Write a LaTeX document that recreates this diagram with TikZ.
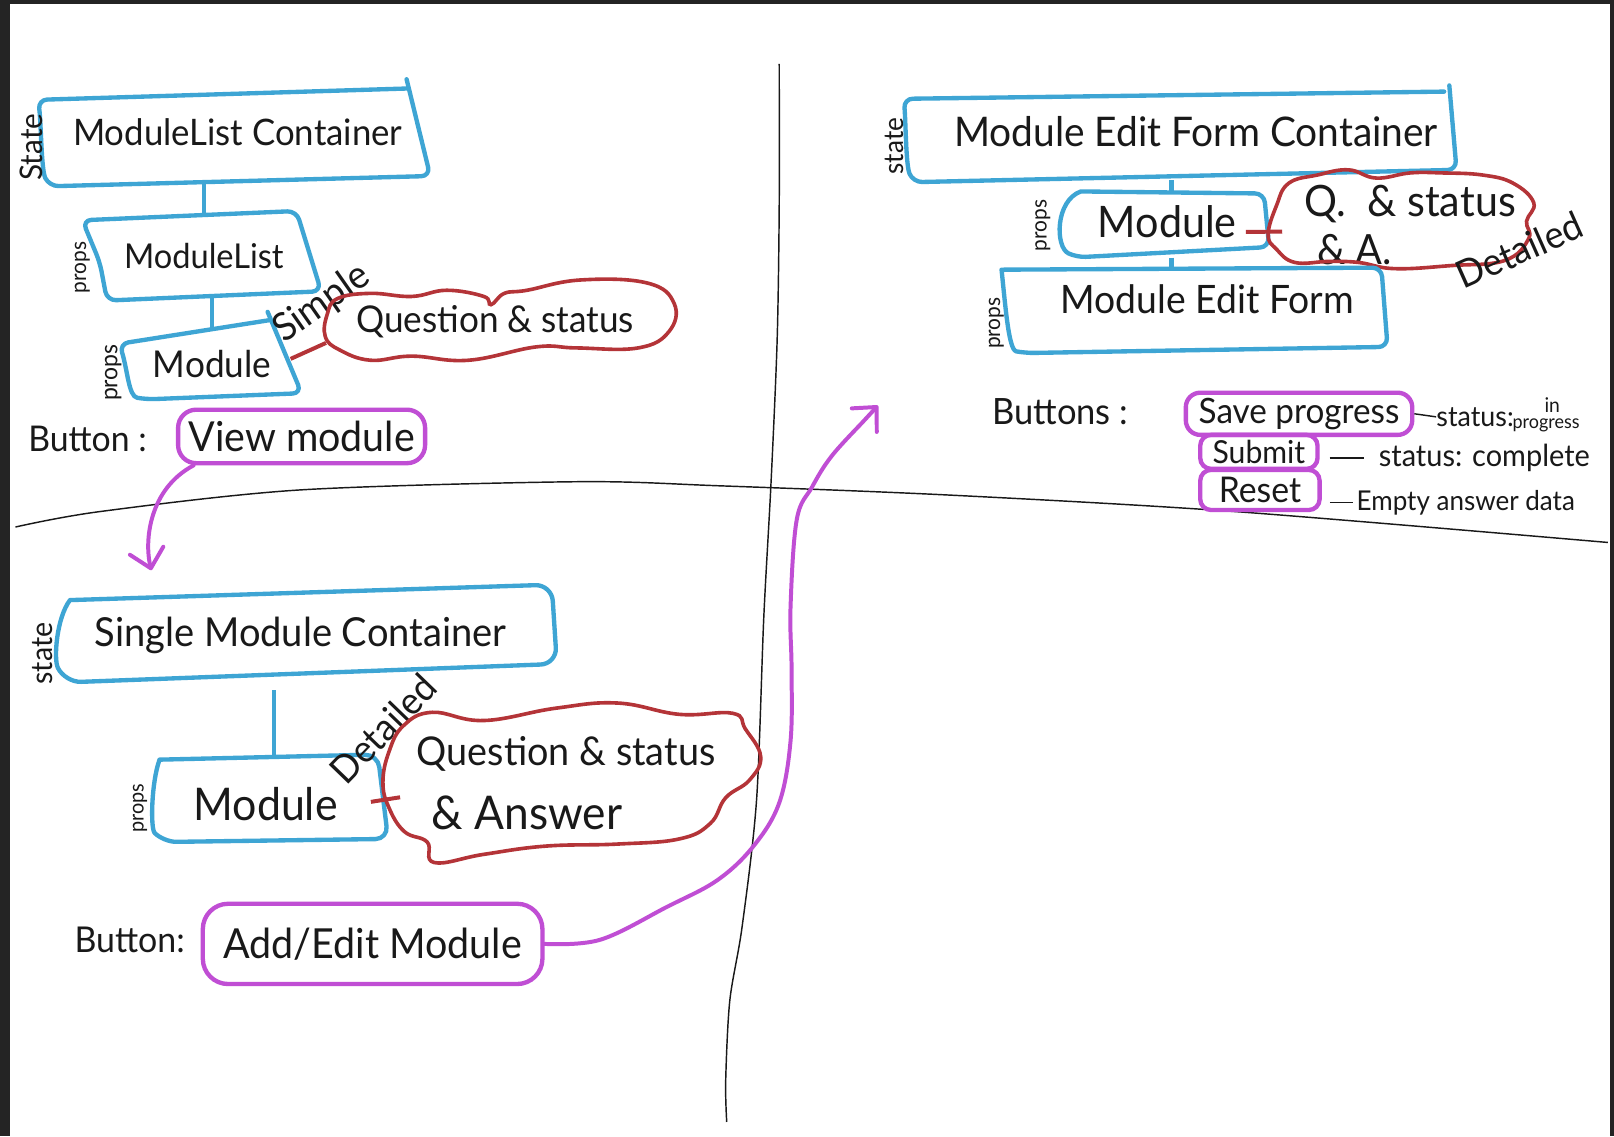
\documentclass[tikz,border=0pt]{standalone}
\usepackage{fontspec}
\setmainfont{Lato}
\usetikzlibrary{arrows.meta}
\definecolor{pblue}{RGB}{62,165,212}
\definecolor{pred}{RGB}{180,52,56}
\definecolor{ppur}{RGB}{192,78,212}
\definecolor{ink}{RGB}{25,25,25}
\definecolor{framegray}{RGB}{36,36,36}
\newcommand{\hw}[2]{\scalebox{1}[1.05]{\resizebox{#1}{!}{#2}}}
\begin{document}
\begin{tikzpicture}[x=0.02cm,y=-0.02cm,
  bluebox/.style={draw=pblue,line width=2.4pt,rounded corners=5pt,line join=round,line cap=round},
  anchorbox/.style={inner sep=0pt,draw=none,text=ink},
  lbl/.style={inner sep=0pt,text=ink},
  cloudline/.style={draw=pred,line width=2pt},
  redlink/.style={draw=pred,line width=2.2pt},
  bluelink/.style={draw=pblue,line width=2.4pt},
  btn/.style={draw=ppur,line width=2.4pt,rounded corners=8pt,inner sep=0pt,text=ink},
  purarrow/.style={draw=ppur,line width=2.2pt,line cap=round,-{Straight Barb[length=10pt 0,width=19pt 0,round]}},
  divider/.style={draw=ink,line width=0.8pt},
  dashlink/.style={draw=ink,line width=0.8pt}]
\fill[framegray] (0,0) rectangle (1568,1104);
\fill[white] (9.5,4) rectangle (1564,1104);
\useasboundingbox (0,0) rectangle (1568,1104);

% dividers
\draw[divider] plot[smooth] coordinates {(757,62) (757,200) (755,330) (749,470) (742,600) (735,777) (721,900) (709,972) (705,1050) (706,1090)};
\draw[divider] plot[smooth] coordinates {(15,512) (97,497) (291,476) (560,468) (700,472) (923,481) (1200,497) (1562,527)};

% ---------- top left ----------
\node[anchorbox,minimum width=7.4cm,minimum height=2cm] (mlc) at (231,128) {\hw{6.4cm}{ModuleList Container}};
\draw[bluebox] (395,77) -- (418,171) -- (48,181) .. controls (40,165) and (40,120) .. (37,97) -- (395,86);
\node[lbl,rotate=90] (st1) at (30,143) {\hw{1.3cm}{State}};

\node[anchorbox,minimum width=4.4cm,minimum height=1.58cm] (ml) at (198,248.5) {\hw{3.1cm}{ModuleList}};
\draw[bluebox] (80,214) -- (288,205) -- (312,283) -- (104,292) -- (97,255) -- cycle;
\node[lbl,rotate=90] (pr1) at (80,260) {\hw{1.0cm}{props}};
\draw[bluelink] (ml.north |- mlc.south) -- (ml.north);

\node[anchorbox,minimum width=3.04cm,minimum height=1.32cm] (m1) at (206,354) {\hw{2.3cm}{Module}};
\draw[bluebox] (260,303) -- (293,382) -- (142,388) .. controls (125,385) and (124,360) .. (116,334) -- (262,311);
\node[lbl,rotate=90] (pr2) at (110,362) {\hw{1.1cm}{props}};
\draw[bluelink] (m1.north |- ml.south) -- (m1.north);

\node[lbl,rotate=35] (simple) at (313,295) {\hw{2.1cm}{Simple}};

\node[anchorbox,minimum width=6.56cm,minimum height=1.6cm] (c1) at (481,313) {\hw{5.4cm}{Question \& status}};
\draw[cloudline] plot[smooth cycle,tension=0.7] coordinates {(316,327) (318,305) (328,290) (360,285) (400,288) (434,282) (470,288) (477,296) (490,285) (512,282) (564,272) (629,275) (655,295) (650,322) (620,338) (560,338) (521,337) (455,350) (400,346) (360,350) (330,340)};
\draw[redlink] (m1.4) -- (c1.187);

\node[lbl] (b1) at (85,426) {\hw{2.3cm}{Button :}};
\node[btn,minimum width=4.8cm,minimum height=1.04cm,rounded corners=10pt] (vb) at (293,424) {\hw{4.4cm}{View module}};
\coordinate (a1end) at (147,554);
\draw[purarrow] (vb.195) .. controls (145,475) and (140,525) .. (a1end);

% ---------- bottom left ----------
\node[lbl,rotate=90] (st2) at (41,635) {\hw{1.2cm}{state}};
\node[anchorbox,minimum width=9.5cm,minimum height=2.12cm] (smc) at (292,617) {\hw{8.0cm}{Single Module Container}};
\draw[bluebox,rounded corners=9pt] (68,583) -- (536,568) -- (541,645) -- (63,663) .. controls (52,640) and (55,600) .. (68,583);

\node[anchorbox,minimum width=3.76cm,minimum height=1.76cm] (m2) at (266,779) {};
\node[lbl] (m2t) at (258,781) {\hw{2.8cm}{Module}};
\draw[bluebox,rounded corners=7pt] (155,738) -- (367,733) -- (377,815) -- (159,818) .. controls (146,805) and (147,760) .. (155,738);
\node[lbl,rotate=90] (pr3) at (136,785) {\hw{0.95cm}{props}};
\draw[bluelink] (m2.north |- smc.south) -- (m2.north);
\node[lbl,rotate=46] (det1) at (372,708) {\hw{2.6cm}{Detailed}};

\node[anchorbox,minimum width=6.64cm,minimum height=2.6cm] (c2) at (555,760) {};
\node[lbl] (c2a) at (550,732) {\hw{5.8cm}{Question \& status}};
\node[lbl] (c2b) at (512,790) {\hw{3.7cm}{\& Answer}};
\draw[cloudline] plot[smooth cycle,tension=0.7] coordinates {(378,730) (392,705) (420,692) (470,700) (540,688) (600,683) (660,694) (712,693) (724,708) (739,735) (728,758) (705,775) (690,800) (660,815) (600,820) (530,822) (470,830) (422,838) (415,818) (393,808) (378,785) (372,760)};
\draw[redlink] (m2.east) -- (c2.185);

\node[lbl] (b2) at (126,913) {\hw{2.14cm}{Button:}};
\node[btn,minimum width=6.6cm,minimum height=1.56cm,rounded corners=14pt] (ab) at (362,917) {\hw{5.8cm}{Add/Edit Module}};
\coordinate (a2end) at (853,394);
\draw[purarrow] plot[smooth,tension=0.6] coordinates {(ab.east) (583,913) (648,881) (697,855) (732,822) (757,780) (768,720) (769,650) (768,590) (774,505) (789,473) (808,443) (840,408) (a2end)};

% ---------- right ----------
\node[lbl,rotate=90] (st3) at (869,142) {\hw{1.1cm}{state}};
\node[anchorbox,minimum width=10.7cm,minimum height=1.88cm] (mefc) at (1162,128) {\hw{9.4cm}{Module Edit Form Container}};
\draw[bluebox] (1408,83) -- (1415,165) -- (887,177) .. controls (880,160) and (880,120) .. (878,96) -- (1403,89);

\node[anchorbox,minimum width=2.88cm,minimum height=1.24cm] (m3) at (1138,219) {};
\node[lbl] (m3t) at (1134,215) {\hw{2.7cm}{Module}};
\draw[bluebox] (1050,186) -- (1228,188) -- (1233,240) -- (1046,250) .. controls (1025,240) and (1025,195) .. (1050,186);
\node[lbl,rotate=90] (pr4) at (1013,219) {\hw{1.0cm}{props}};
\draw[bluelink] (m3.north |- mefc.south) -- (m3.north);

\node[anchorbox,minimum width=4.56cm,minimum height=1.8cm] (c3) at (1360,215) {};
\node[lbl] (c3a) at (1370,198) {\hw{4.1cm}{Q.\ \ \& status}};
\node[lbl] (c3b) at (1316,242) {\hw{1.45cm}{\& A.}};
\draw[cloudline] plot[smooth cycle,tension=0.7] coordinates {(1232,228) (1240,200) (1252,178) (1280,170) (1310,165) (1337,173) (1370,168) (1401,168) (1440,170) (1470,178) (1490,197) (1483,215) (1485,232) (1462,253) (1410,258) (1355,261) (1320,255) (1291,254) (1258,255) (1240,242)};
\draw[redlink] (m3.-5) -- (c3.185);
\node[lbl,rotate=24] (det2) at (1476,243) {\hw{2.6cm}{Detailed}};

\node[anchorbox,minimum width=7.5cm,minimum height=1.16cm] (mef) at (1173,291) {\hw{5.7cm}{Module Edit Form}};
\draw[bluelink] (m3.south) -- (m3.south |- mef.north);
\draw[bluebox] (973,262) -- (1342,260) -- (1348,337) -- (996,343) .. controls (980,340) and (977,300) .. (973,262);
\node[lbl,rotate=90] (pr5) at (968,314) {\hw{1.0cm}{props}};

\node[lbl] (bs) at (1030,400) {\hw{2.64cm}{Buttons :}};
\node[btn,minimum width=4.4cm,minimum height=0.82cm] (save) at (1262,402) {\hw{3.9cm}{Save progress}};
\node[btn,minimum width=2.28cm,minimum height=0.66cm,rounded corners=6pt] (submit) at (1223,439) {\hw{1.8cm}{Submit}};
\node[btn,minimum width=2.32cm,minimum height=0.78cm,rounded corners=6pt] (reset) at (1224,476) {\hw{1.6cm}{Reset}};

\node[lbl] (sin) at (1433,405) {\hw{1.5cm}{status:}};
\node[lbl] (sinw) at (1508,394) {\hw{0.3cm}{in}};
\node[lbl] (sprog) at (1502,413) {\hw{1.3cm}{progress}};
\draw[dashlink] (save.east) -- (sin.west);
\node[lbl] (scomp) at (1442,445) {\hw{4.1cm}{status: complete}};
\draw[dashlink,shorten <=5.5pt,shorten >=8pt] (submit.east |- scomp.west) -- (scomp.west);
\node[lbl] (sempty) at (1424,488) {\hw{4.24cm}{Empty answer data}};
\draw[dashlink,shorten <=4.5pt,shorten >=2pt] (reset.east |- sempty.west) -- (sempty.west);
\end{tikzpicture}
\end{document}
